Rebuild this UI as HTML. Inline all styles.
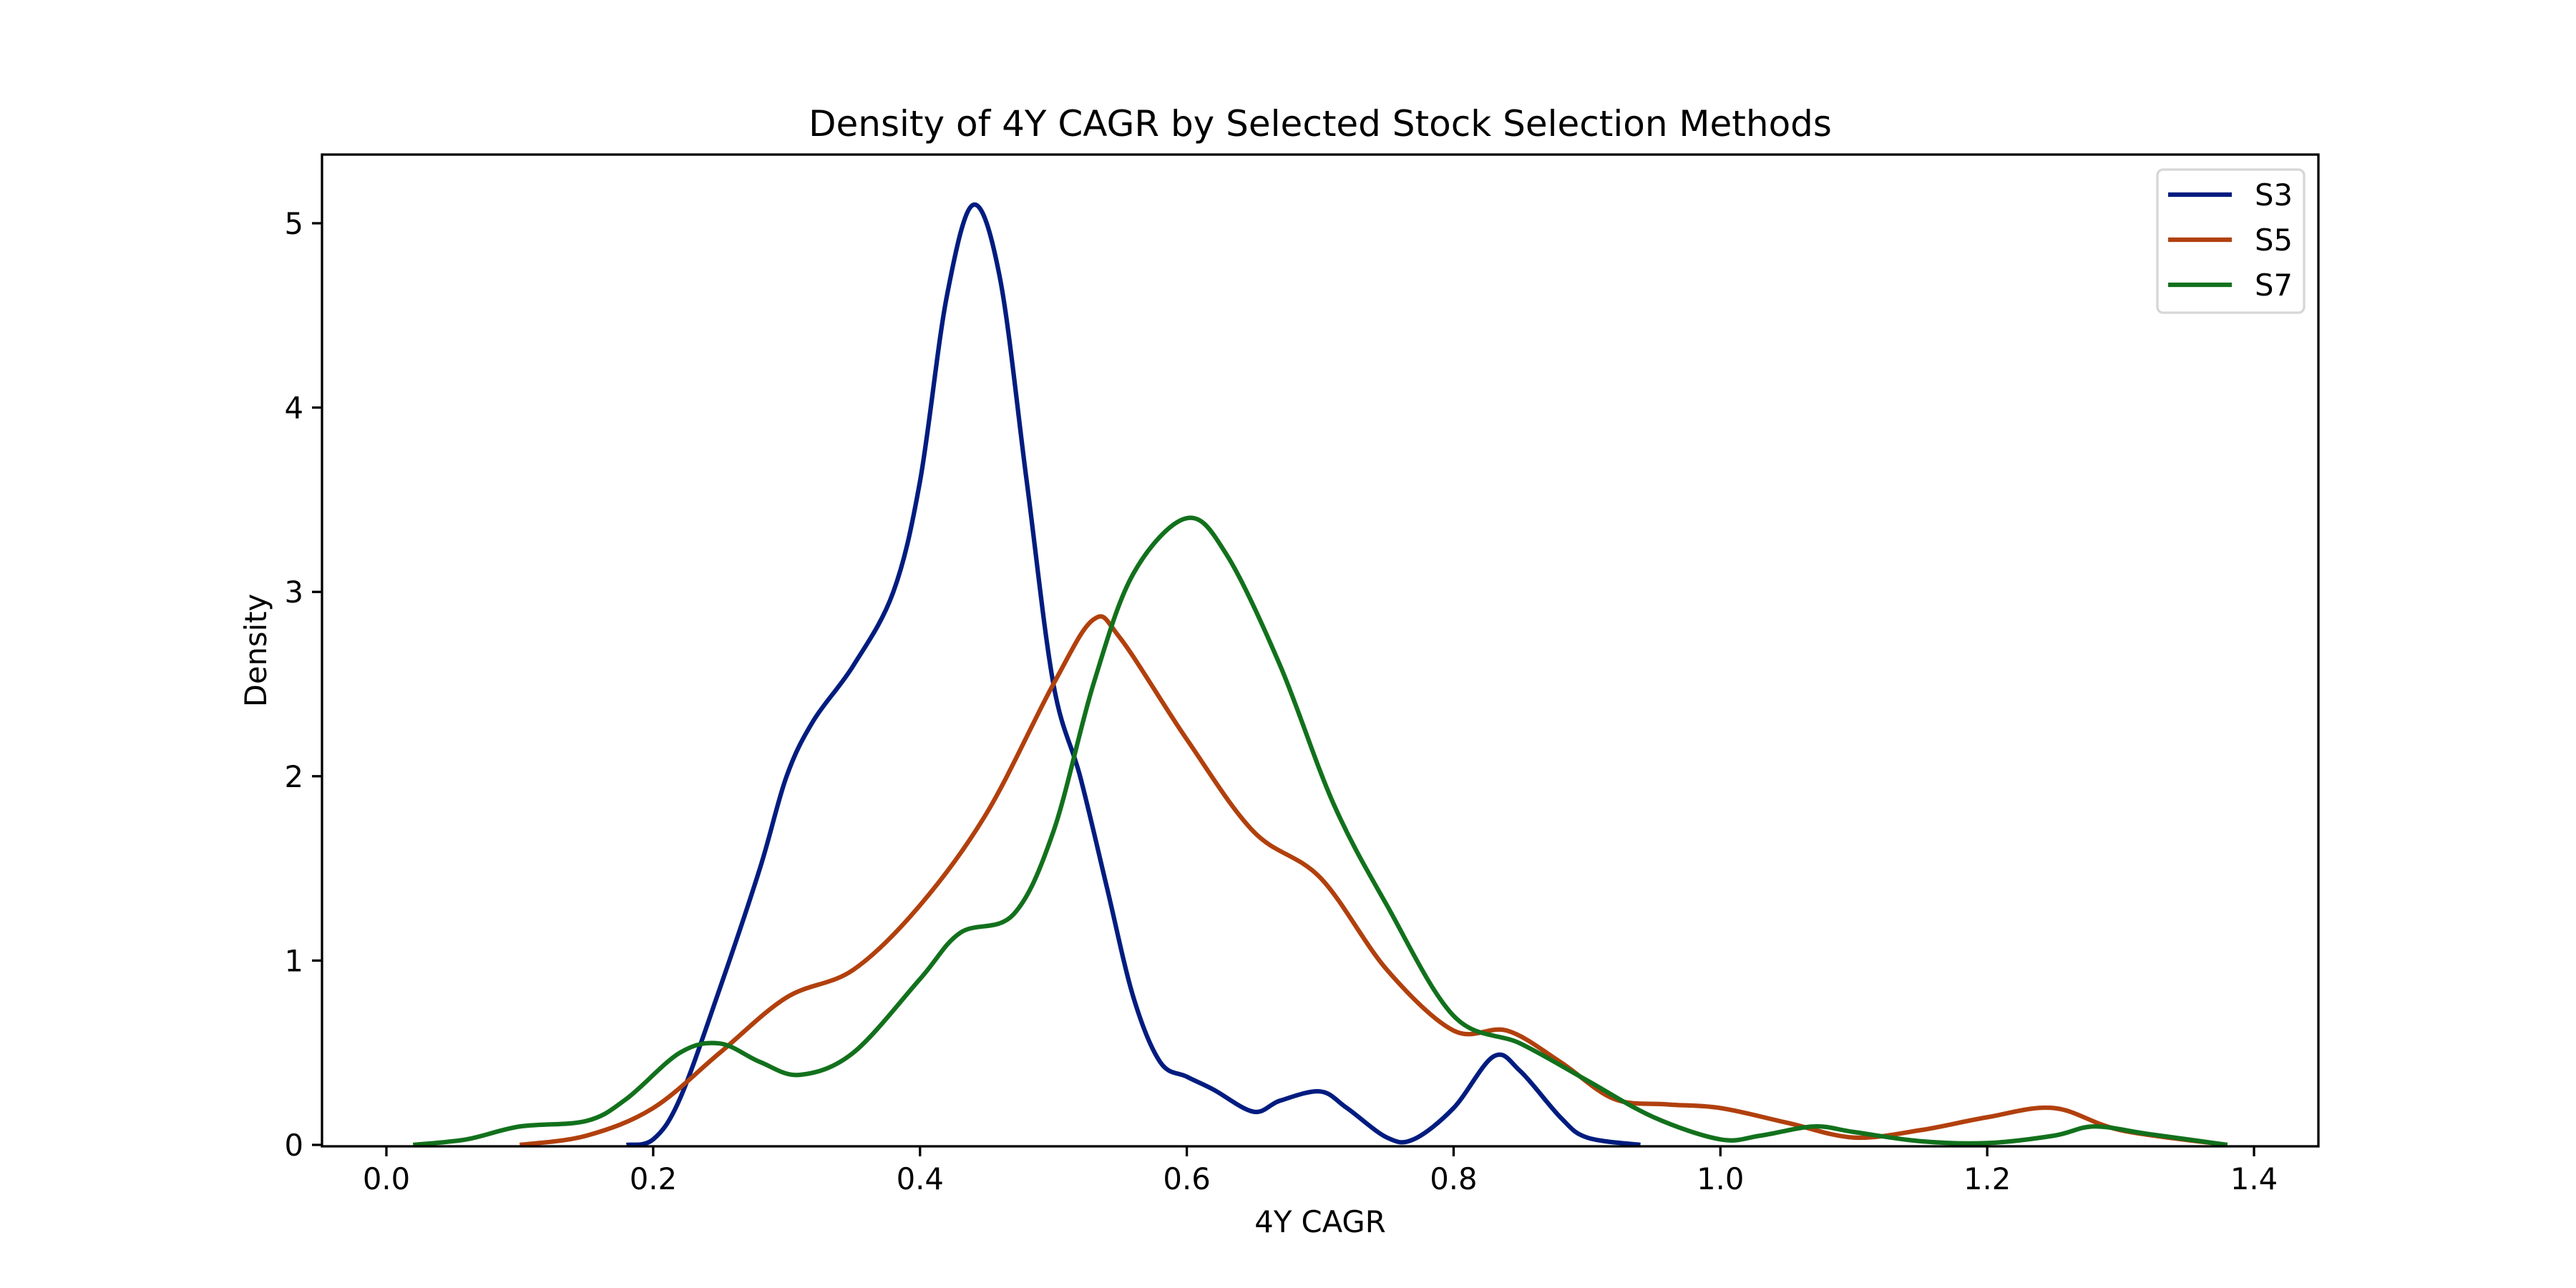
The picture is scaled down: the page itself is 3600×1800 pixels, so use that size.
<!DOCTYPE html>
<html><head><meta charset="utf-8"><style>body{margin:0;background:#fff}svg{display:block}</style></head>
<body>
<svg id="chart" width="3600" height="1800" xmlns="http://www.w3.org/2000/svg" font-family="'DejaVu Sans','Liberation Sans',sans-serif">
<rect width="3600" height="1800" fill="#fff"/>
<text x="1845" y="190" font-size="50" text-anchor="middle">Density of 4Y CAGR by Selected Stock Selection Methods</text>
<g id="plot"></g>
<rect x="450" y="216" width="2790" height="1386" fill="none" stroke="#000" stroke-width="3.3"/>
<text x="1845" y="1722" font-size="41.7" text-anchor="middle">4Y CAGR</text>
<text transform="translate(372,909) rotate(-90)" font-size="41.7" text-anchor="middle">Density</text>
<g>
<rect x="3015" y="237" width="205" height="200" rx="8" fill="#fff" fill-opacity="0.8" stroke="#d6d6d6" stroke-width="3.3"/>
<line x1="3030" y1="272" x2="3119" y2="272" stroke="#001c7f" stroke-width="6.25"/>
<text x="3151" y="287" font-size="41.7">S3</text>
<line x1="3030" y1="335" x2="3119" y2="335" stroke="#b1400d" stroke-width="6.25"/>
<text x="3151" y="350" font-size="41.7">S5</text>
<line x1="3030" y1="398" x2="3119" y2="398" stroke="#12711c" stroke-width="6.25"/>
<text x="3151" y="413" font-size="41.7">S7</text>
</g>
</svg>
<script>
const xTicks=[0.0,0.2,0.4,0.6,0.8,1.0,1.2,1.4];
const yTicks=[0,1,2,3,4,5];
const s3x=[0.18,0.2,0.22,0.25,0.28,0.30,0.32,0.35,0.38,0.40,0.42,0.44,0.46,0.48,0.50,0.52,0.54,0.56,0.58,0.60,0.62,0.65,0.67,0.70,0.72,0.75,0.77,0.80,0.83,0.85,0.88,0.90,0.94];
const s3y=[0,0.03,0.25,0.85,1.5,2.0,2.3,2.6,3.0,3.6,4.6,5.1,4.7,3.6,2.5,2.0,1.4,0.8,0.45,0.37,0.3,0.18,0.24,0.29,0.2,0.04,0.03,0.2,0.48,0.4,0.15,0.04,0];
const s5x=[0.1,0.15,0.2,0.25,0.3,0.35,0.4,0.45,0.5,0.53,0.55,0.6,0.65,0.7,0.75,0.8,0.84,0.88,0.92,0.96,1.0,1.05,1.1,1.15,1.2,1.25,1.3,1.38];
const s5y=[0,0.05,0.2,0.5,0.8,0.95,1.3,1.8,2.5,2.85,2.75,2.2,1.7,1.45,0.95,0.62,0.62,0.45,0.25,0.22,0.2,0.12,0.04,0.08,0.15,0.2,0.08,0];
const s7x=[0.02,0.06,0.1,0.15,0.18,0.22,0.25,0.28,0.31,0.35,0.4,0.43,0.47,0.5,0.53,0.56,0.6,0.63,0.67,0.71,0.75,0.8,0.85,0.9,0.95,1.0,1.03,1.07,1.1,1.15,1.2,1.25,1.28,1.32,1.38];
const s7y=[0,0.03,0.1,0.13,0.25,0.5,0.55,0.45,0.38,0.5,0.9,1.15,1.25,1.7,2.5,3.1,3.4,3.2,2.6,1.85,1.3,0.7,0.55,0.35,0.15,0.03,0.05,0.1,0.07,0.02,0.01,0.05,0.1,0.06,0];
const NS='http://www.w3.org/2000/svg';
const X=v=>540+v*1864.3, Y=v=>1600-v*257.6;
const g=document.getElementById('plot');
function mk(t,a){const e=document.createElementNS(NS,t);for(const k in a)e.setAttribute(k,a[k]);g.appendChild(e);return e;}
xTicks.forEach(t=>{
 const l=mk('line',{x1:X(t),x2:X(t),y1:1602,y2:1616,stroke:'#000','stroke-width':3.3});
 
 
 const tx=mk('text',{x:X(t),y:1662,'font-size':41.7,'text-anchor':'middle'});tx.textContent=t.toFixed(1);
 
 
});
yTicks.forEach(t=>{
 const l=mk('line',{x1:436,x2:450,y1:Y(t),y2:Y(t),stroke:'#000','stroke-width':3.3});
 
 
 const tx=mk('text',{x:424,y:Y(t)+15,'font-size':41.7,'text-anchor':'end'});tx.textContent=t;
 
 
});
function path(xs,ys){
 const p=xs.map((x,i)=>[X(x),Y(ys[i])]);
 let d='M'+p[0][0]+','+p[0][1];
 for(let i=0;i<p.length-1;i++){
  const p0=p[i-1]||p[i],p1=p[i],p2=p[i+1],p3=p[i+2]||p2;
  const c1=[p1[0]+(p2[0]-p0[0])/6,p1[1]+(p2[1]-p0[1])/6];
  const c2=[p2[0]-(p3[0]-p1[0])/6,p2[1]-(p3[1]-p1[1])/6];
  d+=`C${c1[0]},${c1[1]} ${c2[0]},${c2[1]} ${p2[0]},${p2[1]}`;
 }
 return d;
}
[[s3x,s3y,'#001c7f','s3-line'],[s5x,s5y,'#b1400d','s5-line'],[s7x,s7y,'#12711c','s7-line']].forEach(s=>{
 const e=mk('path',{d:path(s[0],s[1]),fill:'none',stroke:s[2],'stroke-width':6.25,'stroke-linejoin':'round'});
 
 
});
</script>
</body></html>
